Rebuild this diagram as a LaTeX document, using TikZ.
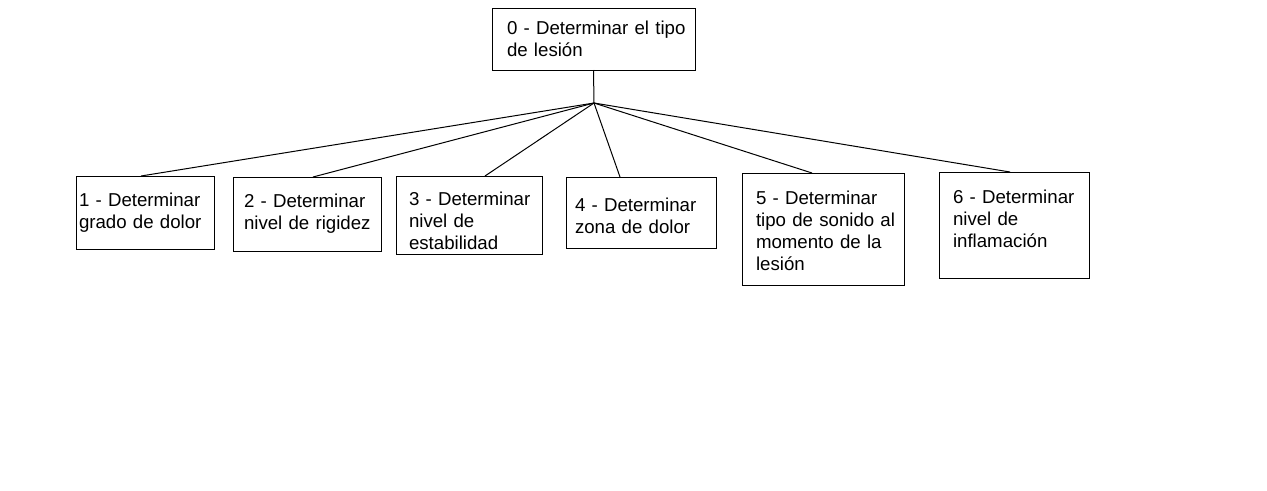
\documentclass[tikz,border=0pt]{standalone}
\usepackage{fontspec}
\setmainfont{Liberation Sans}
\newcommand\topgap[1]{\rule{0pt}{#1}}
\newcommand\botgap[1]{\rule[-#1]{0pt}{1pt}}
\begin{document}
\begin{tikzpicture}[x=0.75pt,y=-0.75pt,
  box/.style={draw, line width=0.75pt, rectangle, anchor=north west, inner sep=0pt, outer sep=0pt,
    align=left, font=\fontsize{14}{16.5}\selectfont},
  link/.style={draw, line width=0.75pt}]
\fill[white] (0,0) rectangle (1267,490);
\useasboundingbox (0,0) rectangle (1267,490);
\node[box, minimum width=152.25pt, minimum height=46.5pt, text width=129.75pt] (b0) at (492,8)
  {\mbox{0 - Determinar el tipo}\\\mbox{de lesión}};
\node[box, minimum width=103.5pt, minimum height=54.75pt, text width=99pt] (b1) at (76,176)
  {\mbox{1 - Determinar}\\\mbox{grado de dolor}};
\node[box, minimum width=111pt, minimum height=55.5pt, text width=94.5pt] (b2) at (233,177)
  {\mbox{2 - Determinar}\\\mbox{nivel de rigidez}};
\node[box, minimum width=109.5pt, minimum height=58.5pt, text width=90pt] (b3) at (396,176)
  {\topgap{19pt}\mbox{3 - Determinar}\\\mbox{nivel de}\\\mbox{estabilidad}};
\node[box, minimum width=112.5pt, minimum height=53.25pt, text width=99pt] (b4) at (566,177)
  {\topgap{14.5pt}\mbox{4 - Determinar}\\\mbox{zona de dolor}};
\node[box, minimum width=121.5pt, minimum height=84pt, text width=100.5pt] (b5) at (742,173)
  {\topgap{13pt}\mbox{5 - Determinar}\\\mbox{tipo de sonido al}\\\mbox{momento de la}\\\mbox{lesión}};
\node[box, minimum width=112.5pt, minimum height=79.5pt, text width=91.5pt] (b6) at (939,172)
  {\mbox{6 - Determinar}\\\mbox{nivel de}\\\mbox{inflamación}\botgap{9pt}};
\coordinate (j) at (594,103);
\path[link] (b0.south) -- (j);
\path[link] (j) -- ([xshift=-3pt]b1.north);
\path[link] (j) -- ([xshift=4.5pt]b2.north);
\path[link] (j) -- ([xshift=12pt]b3.north);
\path[link] (j) -- ([xshift=-15.75pt]b4.north);
\path[link] (j) -- ([xshift=-8.25pt]b5.north);
\path[link] (j) -- ([xshift=-3pt]b6.north);
\end{tikzpicture}
\end{document}
